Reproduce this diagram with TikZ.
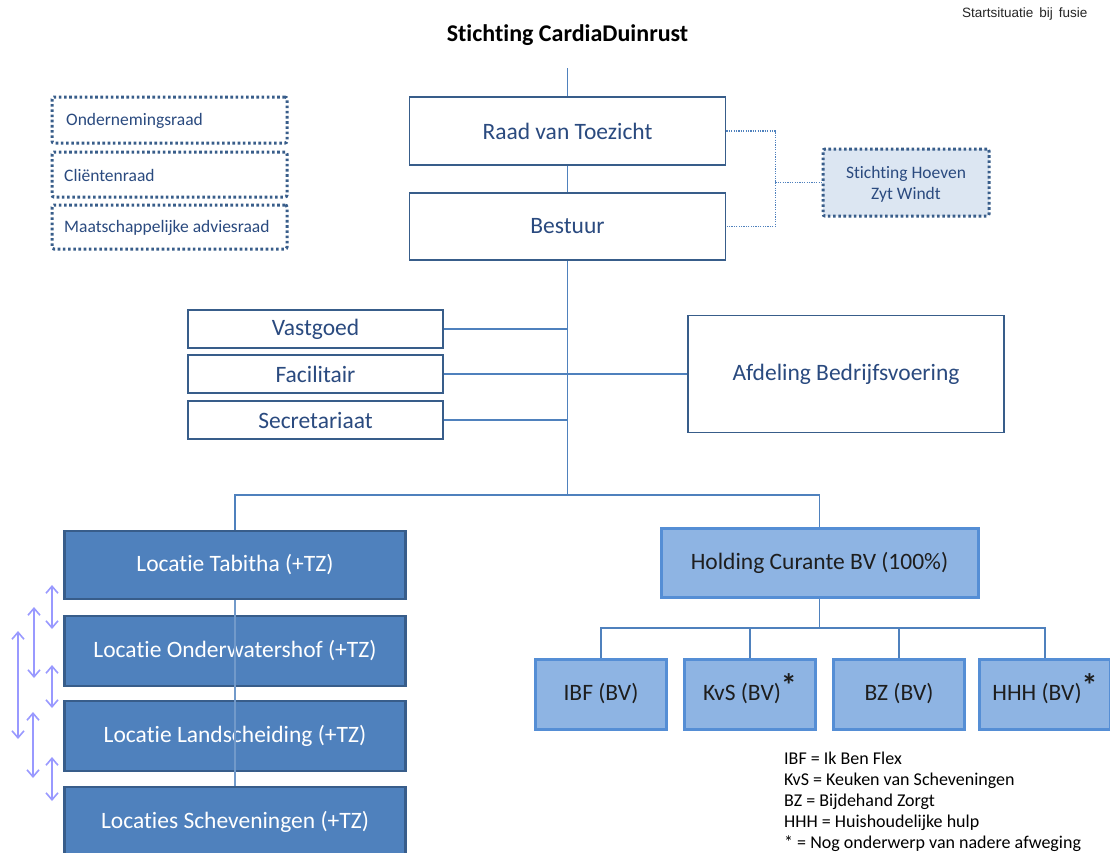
\documentclass[tikz,border=0pt]{standalone}
\usepackage{fontspec}
\setmainfont{Carlito}[Ligatures={NoCommon}]
\newfontfamily\arialfont{Liberation Sans}
\usetikzlibrary{arrows.meta}
\definecolor{lineblue}{HTML}{4F81BD}
\definecolor{darkborder}{HTML}{385D8A}
\definecolor{txtblue}{HTML}{2A4A7F}
\definecolor{locfill}{HTML}{4F81BD}
\definecolor{holdfill}{HTML}{8EB4E3}
\definecolor{holdborder}{HTML}{558ED5}
\definecolor{hoevfill}{HTML}{DCE6F2}
\definecolor{arrowlav}{HTML}{9999FF}
\definecolor{nearblack}{HTML}{1E1E1E}
\newcommand{\bigstar}{\smash{\raisebox{4pt}{\fontsize{32}{32}\selectfont\bfseries *}}}
\tikzset{
  conn/.style={draw=lineblue, line width=1.8pt},
  dotconn/.style={draw=lineblue, line width=1.3pt, dash pattern=on 1.2pt off 1.2pt},
  whitebox/.style={draw=darkborder, line width=1.6pt, fill=white, text=txtblue, inner sep=0pt, font=\fontsize{23.5}{26}\selectfont},
  locbox/.style={draw=darkborder, line width=2.5pt, fill=locfill, text=white, inner sep=0pt, minimum width=341pt, minimum height=69pt, font=\fontsize{23.5}{26}\selectfont},
  holdbox/.style={draw=holdborder, line width=3pt, fill=holdfill, text=nearblack, inner sep=0pt, font=\fontsize{23.5}{26}\selectfont},
  dotbox/.style={draw=darkborder, line width=3pt, dash pattern=on 2.6pt off 2.6pt, rounded corners=2pt, text=txtblue, inner sep=0pt, font=\fontsize{17.5}{21}\selectfont},
  dblarrow/.style={draw=arrowlav, line width=1.6pt, {Straight Barb[length=7pt,width=12pt]}-{Straight Barb[length=7pt,width=12pt]}},
  locline/.style={draw=lineblue!80!white, line width=1.2pt}
}
\begin{document}
\begin{tikzpicture}[x=1pt,y=-1pt]
\useasboundingbox (0,0) rectangle (1110,852);
\clip (0,0) rectangle (1110,852);
\fill[white] (0,0) rectangle (1110,852);

% titles
\node[font=\arialfont\fontsize{13.5}{16}\selectfont, text=black!85, anchor=east] (start) at (1091,14) {Startsituatie\, bij\, fusie};
\node[font=\bfseries\fontsize{24}{28}\selectfont, text=black] (title) at (567.5,35) {Stichting CardiaDuinrust};

% advisory dotted boxes
\node[dotbox, minimum width=235pt, minimum height=46pt] (ond) at (169.5,120) {};
\node[dotbox, minimum width=235pt, minimum height=45pt] (cli) at (169.5,174.5) {};
\node[dotbox, minimum width=235pt, minimum height=44pt] (maat) at (169.5,227) {};
\node[text=txtblue, font=\fontsize{17.5}{21}\selectfont, anchor=west, inner sep=0pt] (ondt) at (66,121) {Ondernemingsraad};
\node[text=txtblue, font=\fontsize{17.5}{21}\selectfont, anchor=west, inner sep=0pt] (clit) at (64,175.5) {Cliëntenraad};
\node[text=txtblue, font=\fontsize{17.5}{21}\selectfont, anchor=west, inner sep=0pt] (maatt) at (64,228) {Maatschappelijke adviesraad};

% top boxes
\coordinate (top) at (567.5,68);
\node[whitebox, minimum width=316pt, minimum height=68pt] (raad) at (567.5,131) {Raad van Toezicht};
\node[whitebox, minimum width=316pt, minimum height=67pt] (bestuur) at (567.5,226.5) {Bestuur};
\node[dotbox, fill=hoevfill, minimum width=166pt, minimum height=67pt] (hoev) at (906,182.5) {};
\node[text=txtblue, font=\fontsize{17.5}{21}\selectfont, align=center, inner sep=0pt] (hoevt) at (906,184.5) {Stichting Hoeven\\Zyt Windt};

% staff boxes
\node[whitebox, minimum width=255pt, minimum height=38pt] (vast) at (315.5,329) {Vastgoed};
\node[whitebox, minimum width=255pt, minimum height=38pt] (faci) at (315.5,374) {Facilitair};
\node[whitebox, minimum width=255pt, minimum height=38pt] (secr) at (315.5,420) {Secretariaat};
\node[whitebox, minimum width=316pt, minimum height=117pt] (afd) at (846,374) {Afdeling Bedrijfsvoering};

% connectors top
\draw[conn] (top) -- (raad.north);
\draw[conn] (raad.south) -- (bestuur.north);
\coordinate (jb) at (567.5,495);
\draw[conn] (bestuur.south) -- (jb);
\draw[conn] (vast.east) -- (vast.east -| jb);
\draw[conn] (faci.east) -- (afd.west);
\draw[conn] (secr.east) -- (secr.east -| jb);
\draw[dotconn] (raad.east) -- ++(49,0) coordinate (dc) |- (bestuur.east);
\draw[dotconn] (dc |- hoev.west) -- (hoev.west);

% locaties
\node[locbox, minimum height=68pt] (loc1) at (235,565) {Locatie Tabitha (+TZ)};
\node[locbox, minimum height=70pt] (loc2) at (235,651) {Locatie Onderwatershof (+TZ)};
\node[locbox, minimum height=70pt] (loc3) at (235,736) {Locatie Landscheiding (+TZ)};
\node[locbox, minimum height=70pt] (loc4) at (235,822) {Locaties Scheveningen (+TZ)};
\draw[locline] (loc1.south) -- (loc4.north);

% holding
\node[holdbox, minimum width=317pt, minimum height=69pt] (hold) at (819.5,562.5) {Holding Curante BV (100\%)};
\draw[conn] (loc1.north) |- (jb) -| (hold.north);

\node[holdbox, minimum width=131pt, minimum height=70pt] (ibf) at (601,694) {IBF (BV)};
\node[holdbox, minimum width=131pt, minimum height=70pt] (kvs) at (750,694) {KvS (BV)\bigstar};
\node[holdbox, minimum width=131pt, minimum height=70pt] (bz) at (899,694) {BZ (BV)};
\node[holdbox, minimum width=131pt, minimum height=70pt] (hhh) at (1045,694) {HHH (BV)\bigstar};
\coordinate (hb) at (819.5,628);
\draw[conn] (hold.south) -- (hb);
\draw[conn] (ibf.north) |- (hb) -| (hhh.north);
\draw[conn] (kvs.north) -- (kvs.north |- hb);
\draw[conn] (bz.north) -- (bz.north |- hb);

% legend
\node[anchor=north west, align=left, inner sep=0pt, text=black, font=\fontsize{18}{21}\selectfont] (legend) at (784,752) {IBF = Ik Ben Flex\\KvS = Keuken van Scheveningen\\BZ = Bijdehand Zorgt\\HHH = Huishoudelijke hulp\\* = Nog onderwerp van nadere afweging};

% double arrows
\draw[dblarrow] (52,585) -- (52,629);
\draw[dblarrow] (34,607) -- (34,678);
\draw[dblarrow] (18,631) -- (18,739);
\draw[dblarrow] (52,665) -- (52,708);
\draw[dblarrow] (33,712) -- (33,778);
\draw[dblarrow] (52,757) -- (52,801);
\end{tikzpicture}
\end{document}
